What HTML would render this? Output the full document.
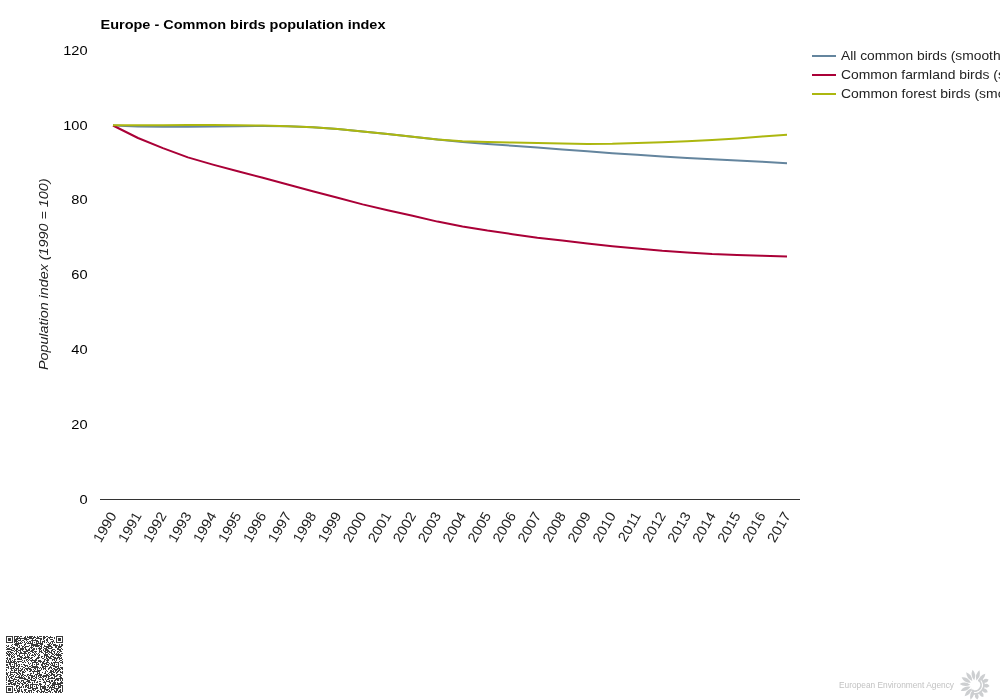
<!DOCTYPE html>
<html><head><meta charset="utf-8"><title>Europe - Common birds population index</title>
<style>
html,body{margin:0;padding:0;background:#fff;width:1000px;height:700px;overflow:hidden}
svg{display:block;will-change:transform}
text{font-family:"Liberation Sans",sans-serif}
</style></head><body>
<svg width="1000" height="700" viewBox="0 0 1000 700">
<rect width="1000" height="700" fill="#fff"/>
<text x="100.5" y="29" font-size="13" font-weight="bold" fill="#000" textLength="285" lengthAdjust="spacingAndGlyphs">Europe - Common birds population index</text>
<text transform="translate(87.6,55) scale(1.09,1)" font-size="13.4" fill="#000" text-anchor="end">120</text>
<text transform="translate(87.6,130) scale(1.09,1)" font-size="13.4" fill="#000" text-anchor="end">100</text>
<text transform="translate(87.6,204) scale(1.09,1)" font-size="13.4" fill="#000" text-anchor="end">80</text>
<text transform="translate(87.6,279) scale(1.09,1)" font-size="13.4" fill="#000" text-anchor="end">60</text>
<text transform="translate(87.6,354) scale(1.09,1)" font-size="13.4" fill="#000" text-anchor="end">40</text>
<text transform="translate(87.6,429) scale(1.09,1)" font-size="13.4" fill="#000" text-anchor="end">20</text>
<text transform="translate(87.6,504) scale(1.09,1)" font-size="13.4" fill="#000" text-anchor="end">0</text>
<text transform="translate(48,274.3) rotate(-90)" x="0" y="0" font-size="13" font-style="italic" fill="#222" text-anchor="middle" textLength="191.6" lengthAdjust="spacingAndGlyphs">Population index (1990 = 100)</text>
<rect x="100" y="499" width="700" height="1" fill="#333"/>
<text transform="translate(117.10,515.50) rotate(-60) scale(1.050,1)" font-size="13.90" fill="#222" text-anchor="end">1990</text>
<text transform="translate(142.06,515.50) rotate(-60) scale(1.050,1)" font-size="13.90" fill="#222" text-anchor="end">1991</text>
<text transform="translate(167.03,515.50) rotate(-60) scale(1.050,1)" font-size="13.90" fill="#222" text-anchor="end">1992</text>
<text transform="translate(191.99,515.50) rotate(-60) scale(1.050,1)" font-size="13.90" fill="#222" text-anchor="end">1993</text>
<text transform="translate(216.95,515.50) rotate(-60) scale(1.050,1)" font-size="13.90" fill="#222" text-anchor="end">1994</text>
<text transform="translate(241.91,515.50) rotate(-60) scale(1.050,1)" font-size="13.90" fill="#222" text-anchor="end">1995</text>
<text transform="translate(266.88,515.50) rotate(-60) scale(1.050,1)" font-size="13.90" fill="#222" text-anchor="end">1996</text>
<text transform="translate(291.84,515.50) rotate(-60) scale(1.050,1)" font-size="13.90" fill="#222" text-anchor="end">1997</text>
<text transform="translate(316.80,515.50) rotate(-60) scale(1.050,1)" font-size="13.90" fill="#222" text-anchor="end">1998</text>
<text transform="translate(341.77,515.50) rotate(-60) scale(1.050,1)" font-size="13.90" fill="#222" text-anchor="end">1999</text>
<text transform="translate(366.73,515.50) rotate(-60) scale(1.050,1)" font-size="13.90" fill="#222" text-anchor="end">2000</text>
<text transform="translate(391.69,515.50) rotate(-60) scale(1.050,1)" font-size="13.90" fill="#222" text-anchor="end">2001</text>
<text transform="translate(416.66,515.50) rotate(-60) scale(1.050,1)" font-size="13.90" fill="#222" text-anchor="end">2002</text>
<text transform="translate(441.62,515.50) rotate(-60) scale(1.050,1)" font-size="13.90" fill="#222" text-anchor="end">2003</text>
<text transform="translate(466.58,515.50) rotate(-60) scale(1.050,1)" font-size="13.90" fill="#222" text-anchor="end">2004</text>
<text transform="translate(491.54,515.50) rotate(-60) scale(1.050,1)" font-size="13.90" fill="#222" text-anchor="end">2005</text>
<text transform="translate(516.51,515.50) rotate(-60) scale(1.050,1)" font-size="13.90" fill="#222" text-anchor="end">2006</text>
<text transform="translate(541.47,515.50) rotate(-60) scale(1.050,1)" font-size="13.90" fill="#222" text-anchor="end">2007</text>
<text transform="translate(566.43,515.50) rotate(-60) scale(1.050,1)" font-size="13.90" fill="#222" text-anchor="end">2008</text>
<text transform="translate(591.40,515.50) rotate(-60) scale(1.050,1)" font-size="13.90" fill="#222" text-anchor="end">2009</text>
<text transform="translate(616.36,515.50) rotate(-60) scale(1.050,1)" font-size="13.90" fill="#222" text-anchor="end">2010</text>
<text transform="translate(641.32,515.50) rotate(-60) scale(1.050,1)" font-size="13.90" fill="#222" text-anchor="end">2011</text>
<text transform="translate(666.29,515.50) rotate(-60) scale(1.050,1)" font-size="13.90" fill="#222" text-anchor="end">2012</text>
<text transform="translate(691.25,515.50) rotate(-60) scale(1.050,1)" font-size="13.90" fill="#222" text-anchor="end">2013</text>
<text transform="translate(716.21,515.50) rotate(-60) scale(1.050,1)" font-size="13.90" fill="#222" text-anchor="end">2014</text>
<text transform="translate(741.17,515.50) rotate(-60) scale(1.050,1)" font-size="13.90" fill="#222" text-anchor="end">2015</text>
<text transform="translate(766.14,515.50) rotate(-60) scale(1.050,1)" font-size="13.90" fill="#222" text-anchor="end">2016</text>
<text transform="translate(791.10,515.50) rotate(-60) scale(1.050,1)" font-size="13.90" fill="#222" text-anchor="end">2017</text>
<polyline points="113.0,125.5 138.0,126.4 162.9,126.8 187.9,126.8 212.9,126.6 237.8,126.3 262.8,126.0 287.7,126.2 312.7,127.2 337.7,129.1 362.6,131.5 387.6,134.1 412.6,136.8 437.5,139.6 462.5,142.0 487.4,144.1 512.4,145.7 537.4,147.6 562.3,149.5 587.3,151.3 612.3,153.2 637.2,154.8 662.2,156.4 687.1,158.0 712.1,159.3 737.1,160.5 762.0,161.7 787.0,163.3" fill="none" stroke="#64859e" stroke-width="2" stroke-linejoin="round"/>
<polyline points="113.0,125.5 138.0,138.0 162.9,148.1 187.9,157.4 212.9,164.6 237.8,171.3 262.8,177.8 287.7,184.5 312.7,191.2 337.7,197.8 362.6,204.4 387.6,210.3 412.6,215.8 437.5,221.6 462.5,226.4 487.4,230.6 512.4,234.2 537.4,237.8 562.3,240.6 587.3,243.6 612.3,246.2 637.2,248.6 662.2,250.8 687.1,252.4 712.1,254.0 737.1,255.0 762.0,255.8 787.0,256.4" fill="none" stroke="#aa0037" stroke-width="2" stroke-linejoin="round"/>
<polyline points="113.0,125.2 138.0,125.2 162.9,125.2 187.9,125.1 212.9,125.1 237.8,125.2 262.8,125.5 287.7,126.2 312.7,127.2 337.7,129.1 362.6,131.5 387.6,134.1 412.6,136.8 437.5,139.6 462.5,141.2 487.4,142.0 512.4,142.5 537.4,143.1 562.3,143.6 587.3,143.9 612.3,143.8 637.2,143.1 662.2,142.3 687.1,141.2 712.1,140.0 737.1,138.5 762.0,136.5 787.0,134.8" fill="none" stroke="#acb70f" stroke-width="2" stroke-linejoin="round"/>
<rect x="812" y="55" width="24" height="2" fill="#64859e"/>
<text transform="translate(841,60.0) scale(1.063,1)" font-size="13" fill="#222">All common birds (smoothed)</text>
<rect x="812" y="74" width="24" height="2" fill="#aa0037"/>
<text transform="translate(841,79.0) scale(1.071,1)" font-size="13" fill="#222">Common farmland birds (smoothed)</text>
<rect x="812" y="93" width="24" height="2" fill="#acb70f"/>
<text transform="translate(841,98.0) scale(1.075,1)" font-size="13" fill="#222">Common forest birds (smoothed)</text>
<defs><filter id="qb" x="-5%%" y="-5%%" width="110%%" height="110%%"><feGaussianBlur stdDeviation="0.3"/></filter></defs>
<path fill="#3a3a3a" filter="url(#qb)" d="M6 636h7v1h-7zM14 636h5v1h-5zM20 636h2v1h-2zM25 636h1v1h-1zM27 636h1v1h-1zM29 636h4v1h-4zM34 636h1v1h-1zM37 636h1v1h-1zM39 636h3v1h-3zM43 636h2v1h-2zM46 636h2v1h-2zM50 636h1v1h-1zM56 636h7v1h-7zM6 637h1v1h-1zM12 637h1v1h-1zM14 637h1v1h-1zM17 637h1v1h-1zM19 637h1v1h-1zM24 637h2v1h-2zM27 637h5v1h-5zM33 637h3v1h-3zM37 637h2v1h-2zM43 637h3v1h-3zM48 637h5v1h-5zM54 637h1v1h-1zM56 637h1v1h-1zM62 637h1v1h-1zM6 638h1v1h-1zM8 638h3v1h-3zM12 638h1v1h-1zM14 638h1v1h-1zM16 638h11v1h-11zM29 638h5v1h-5zM36 638h6v1h-6zM43 638h2v1h-2zM47 638h1v1h-1zM49 638h1v1h-1zM54 638h1v1h-1zM56 638h1v1h-1zM58 638h3v1h-3zM62 638h1v1h-1zM6 639h1v1h-1zM8 639h3v1h-3zM12 639h1v1h-1zM14 639h4v1h-4zM20 639h1v1h-1zM24 639h5v1h-5zM32 639h1v1h-1zM35 639h1v1h-1zM40 639h2v1h-2zM43 639h1v1h-1zM46 639h2v1h-2zM50 639h3v1h-3zM56 639h1v1h-1zM58 639h3v1h-3zM62 639h1v1h-1zM6 640h1v1h-1zM8 640h3v1h-3zM12 640h1v1h-1zM14 640h3v1h-3zM18 640h3v1h-3zM22 640h2v1h-2zM26 640h1v1h-1zM31 640h7v1h-7zM40 640h1v1h-1zM44 640h1v1h-1zM46 640h2v1h-2zM53 640h1v1h-1zM56 640h1v1h-1zM58 640h3v1h-3zM62 640h1v1h-1zM6 641h1v1h-1zM12 641h1v1h-1zM14 641h4v1h-4zM21 641h1v1h-1zM24 641h1v1h-1zM27 641h1v1h-1zM29 641h2v1h-2zM32 641h1v1h-1zM36 641h3v1h-3zM40 641h1v1h-1zM42 641h3v1h-3zM47 641h1v1h-1zM51 641h3v1h-3zM56 641h1v1h-1zM62 641h1v1h-1zM6 642h7v1h-7zM14 642h1v1h-1zM16 642h1v1h-1zM18 642h1v1h-1zM20 642h1v1h-1zM22 642h1v1h-1zM24 642h1v1h-1zM26 642h1v1h-1zM28 642h1v1h-1zM30 642h1v1h-1zM32 642h1v1h-1zM34 642h1v1h-1zM36 642h1v1h-1zM38 642h1v1h-1zM40 642h1v1h-1zM42 642h1v1h-1zM44 642h1v1h-1zM46 642h1v1h-1zM48 642h1v1h-1zM50 642h1v1h-1zM52 642h1v1h-1zM54 642h1v1h-1zM56 642h7v1h-7zM15 643h7v1h-7zM25 643h1v1h-1zM27 643h6v1h-6zM36 643h7v1h-7zM49 643h2v1h-2zM52 643h1v1h-1zM12 644h1v1h-1zM14 644h5v1h-5zM24 644h2v1h-2zM31 644h7v1h-7zM40 644h3v1h-3zM47 644h3v1h-3zM51 644h1v1h-1zM53 644h3v1h-3zM59 644h1v1h-1zM61 644h2v1h-2zM6 645h1v1h-1zM8 645h1v1h-1zM11 645h1v1h-1zM15 645h3v1h-3zM19 645h1v1h-1zM21 645h1v1h-1zM24 645h1v1h-1zM29 645h1v1h-1zM31 645h9v1h-9zM41 645h1v1h-1zM44 645h1v1h-1zM48 645h3v1h-3zM53 645h5v1h-5zM59 645h1v1h-1zM61 645h2v1h-2zM7 646h2v1h-2zM12 646h1v1h-1zM17 646h1v1h-1zM19 646h1v1h-1zM22 646h2v1h-2zM25 646h4v1h-4zM31 646h1v1h-1zM33 646h1v1h-1zM35 646h4v1h-4zM40 646h2v1h-2zM44 646h8v1h-8zM55 646h2v1h-2zM58 646h4v1h-4zM6 647h1v1h-1zM10 647h2v1h-2zM13 647h2v1h-2zM18 647h2v1h-2zM22 647h1v1h-1zM24 647h2v1h-2zM30 647h3v1h-3zM39 647h1v1h-1zM41 647h1v1h-1zM43 647h1v1h-1zM46 647h3v1h-3zM51 647h2v1h-2zM55 647h2v1h-2zM58 647h3v1h-3zM7 648h3v1h-3zM12 648h3v1h-3zM16 648h2v1h-2zM20 648h4v1h-4zM25 648h1v1h-1zM29 648h1v1h-1zM31 648h1v1h-1zM33 648h2v1h-2zM36 648h1v1h-1zM38 648h4v1h-4zM44 648h3v1h-3zM48 648h4v1h-4zM57 648h2v1h-2zM61 648h1v1h-1zM6 649h6v1h-6zM14 649h1v1h-1zM16 649h2v1h-2zM20 649h4v1h-4zM25 649h2v1h-2zM28 649h2v1h-2zM32 649h3v1h-3zM36 649h1v1h-1zM39 649h2v1h-2zM43 649h1v1h-1zM45 649h3v1h-3zM52 649h3v1h-3zM57 649h4v1h-4zM62 649h1v1h-1zM11 650h3v1h-3zM15 650h2v1h-2zM18 650h3v1h-3zM22 650h1v1h-1zM26 650h4v1h-4zM31 650h3v1h-3zM39 650h1v1h-1zM41 650h1v1h-1zM43 650h1v1h-1zM45 650h4v1h-4zM51 650h2v1h-2zM55 650h1v1h-1zM59 650h2v1h-2zM7 651h4v1h-4zM14 651h1v1h-1zM16 651h2v1h-2zM20 651h1v1h-1zM23 651h5v1h-5zM30 651h3v1h-3zM34 651h3v1h-3zM39 651h3v1h-3zM44 651h2v1h-2zM47 651h3v1h-3zM51 651h1v1h-1zM53 651h2v1h-2zM57 651h2v1h-2zM60 651h2v1h-2zM6 652h1v1h-1zM8 652h1v1h-1zM10 652h3v1h-3zM16 652h1v1h-1zM18 652h1v1h-1zM20 652h2v1h-2zM24 652h2v1h-2zM28 652h2v1h-2zM32 652h2v1h-2zM35 652h1v1h-1zM39 652h1v1h-1zM41 652h2v1h-2zM45 652h3v1h-3zM49 652h3v1h-3zM54 652h1v1h-1zM57 652h1v1h-1zM59 652h1v1h-1zM6 653h2v1h-2zM9 653h1v1h-1zM11 653h1v1h-1zM13 653h1v1h-1zM15 653h2v1h-2zM19 653h8v1h-8zM28 653h1v1h-1zM30 653h1v1h-1zM34 653h1v1h-1zM36 653h1v1h-1zM38 653h1v1h-1zM43 653h1v1h-1zM45 653h1v1h-1zM48 653h1v1h-1zM51 653h2v1h-2zM54 653h1v1h-1zM56 653h1v1h-1zM58 653h1v1h-1zM61 653h2v1h-2zM7 654h4v1h-4zM12 654h1v1h-1zM14 654h1v1h-1zM16 654h1v1h-1zM19 654h1v1h-1zM24 654h1v1h-1zM27 654h1v1h-1zM29 654h1v1h-1zM32 654h1v1h-1zM34 654h2v1h-2zM37 654h1v1h-1zM39 654h1v1h-1zM44 654h4v1h-4zM49 654h1v1h-1zM52 654h2v1h-2zM55 654h6v1h-6zM6 655h1v1h-1zM8 655h2v1h-2zM11 655h1v1h-1zM13 655h1v1h-1zM17 655h3v1h-3zM22 655h1v1h-1zM24 655h1v1h-1zM27 655h1v1h-1zM29 655h1v1h-1zM31 655h3v1h-3zM35 655h1v1h-1zM38 655h2v1h-2zM44 655h4v1h-4zM51 655h1v1h-1zM54 655h1v1h-1zM56 655h6v1h-6zM9 656h1v1h-1zM11 656h2v1h-2zM14 656h1v1h-1zM17 656h1v1h-1zM19 656h3v1h-3zM25 656h1v1h-1zM27 656h2v1h-2zM34 656h1v1h-1zM38 656h1v1h-1zM41 656h2v1h-2zM44 656h1v1h-1zM46 656h3v1h-3zM50 656h4v1h-4zM58 656h1v1h-1zM60 656h1v1h-1zM7 657h1v1h-1zM11 657h1v1h-1zM13 657h2v1h-2zM20 657h3v1h-3zM24 657h6v1h-6zM31 657h2v1h-2zM37 657h3v1h-3zM41 657h1v1h-1zM44 657h1v1h-1zM46 657h1v1h-1zM48 657h3v1h-3zM53 657h3v1h-3zM57 657h3v1h-3zM61 657h1v1h-1zM6 658h2v1h-2zM9 658h2v1h-2zM12 658h1v1h-1zM17 658h3v1h-3zM21 658h1v1h-1zM23 658h3v1h-3zM28 658h1v1h-1zM30 658h2v1h-2zM36 658h3v1h-3zM42 658h2v1h-2zM46 658h2v1h-2zM49 658h3v1h-3zM54 658h4v1h-4zM59 658h3v1h-3zM7 659h1v1h-1zM9 659h2v1h-2zM14 659h2v1h-2zM17 659h5v1h-5zM26 659h2v1h-2zM29 659h1v1h-1zM32 659h1v1h-1zM35 659h2v1h-2zM44 659h2v1h-2zM47 659h2v1h-2zM52 659h3v1h-3zM56 659h1v1h-1zM59 659h1v1h-1zM62 659h1v1h-1zM6 660h1v1h-1zM8 660h1v1h-1zM10 660h1v1h-1zM12 660h1v1h-1zM14 660h1v1h-1zM22 660h1v1h-1zM24 660h1v1h-1zM26 660h1v1h-1zM28 660h1v1h-1zM30 660h7v1h-7zM38 660h3v1h-3zM44 660h1v1h-1zM46 660h3v1h-3zM52 660h1v1h-1zM54 660h1v1h-1zM56 660h1v1h-1zM60 660h2v1h-2zM6 661h1v1h-1zM8 661h1v1h-1zM10 661h2v1h-2zM13 661h3v1h-3zM17 661h5v1h-5zM24 661h1v1h-1zM27 661h1v1h-1zM31 661h1v1h-1zM34 661h2v1h-2zM38 661h4v1h-4zM43 661h2v1h-2zM47 661h1v1h-1zM55 661h1v1h-1zM59 661h1v1h-1zM62 661h1v1h-1zM6 662h9v1h-9zM16 662h1v1h-1zM18 662h1v1h-1zM22 662h2v1h-2zM25 662h1v1h-1zM28 662h1v1h-1zM32 662h6v1h-6zM40 662h1v1h-1zM42 662h2v1h-2zM46 662h3v1h-3zM51 662h1v1h-1zM53 662h6v1h-6zM60 662h3v1h-3zM9 663h2v1h-2zM14 663h3v1h-3zM28 663h1v1h-1zM30 663h1v1h-1zM32 663h1v1h-1zM36 663h1v1h-1zM38 663h1v1h-1zM42 663h5v1h-5zM49 663h1v1h-1zM51 663h2v1h-2zM54 663h1v1h-1zM58 663h1v1h-1zM62 663h1v1h-1zM6 664h2v1h-2zM9 664h2v1h-2zM12 664h1v1h-1zM14 664h1v1h-1zM16 664h1v1h-1zM18 664h2v1h-2zM21 664h1v1h-1zM23 664h2v1h-2zM29 664h1v1h-1zM32 664h1v1h-1zM34 664h1v1h-1zM36 664h3v1h-3zM41 664h2v1h-2zM44 664h1v1h-1zM46 664h3v1h-3zM50 664h1v1h-1zM52 664h1v1h-1zM54 664h1v1h-1zM56 664h1v1h-1zM58 664h1v1h-1zM6 665h2v1h-2zM10 665h1v1h-1zM14 665h1v1h-1zM16 665h2v1h-2zM19 665h1v1h-1zM24 665h4v1h-4zM31 665h2v1h-2zM36 665h1v1h-1zM41 665h2v1h-2zM45 665h1v1h-1zM48 665h1v1h-1zM51 665h4v1h-4zM58 665h1v1h-1zM60 665h1v1h-1zM8 666h1v1h-1zM10 666h5v1h-5zM16 666h1v1h-1zM18 666h2v1h-2zM21 666h2v1h-2zM25 666h1v1h-1zM27 666h1v1h-1zM29 666h2v1h-2zM32 666h6v1h-6zM42 666h6v1h-6zM50 666h1v1h-1zM53 666h6v1h-6zM6 667h3v1h-3zM11 667h1v1h-1zM13 667h2v1h-2zM18 667h1v1h-1zM23 667h2v1h-2zM28 667h1v1h-1zM31 667h8v1h-8zM40 667h1v1h-1zM42 667h2v1h-2zM45 667h1v1h-1zM49 667h3v1h-3zM55 667h2v1h-2zM58 667h1v1h-1zM60 667h3v1h-3zM8 668h1v1h-1zM10 668h4v1h-4zM15 668h4v1h-4zM20 668h1v1h-1zM22 668h1v1h-1zM25 668h6v1h-6zM34 668h2v1h-2zM37 668h1v1h-1zM39 668h1v1h-1zM41 668h1v1h-1zM43 668h3v1h-3zM48 668h2v1h-2zM51 668h1v1h-1zM53 668h2v1h-2zM57 668h3v1h-3zM61 668h2v1h-2zM6 669h1v1h-1zM11 669h1v1h-1zM14 669h1v1h-1zM16 669h1v1h-1zM18 669h1v1h-1zM21 669h2v1h-2zM24 669h1v1h-1zM26 669h2v1h-2zM29 669h3v1h-3zM33 669h1v1h-1zM35 669h1v1h-1zM37 669h1v1h-1zM41 669h1v1h-1zM43 669h1v1h-1zM45 669h1v1h-1zM48 669h1v1h-1zM52 669h1v1h-1zM54 669h4v1h-4zM59 669h2v1h-2zM62 669h1v1h-1zM6 670h1v1h-1zM11 670h2v1h-2zM14 670h3v1h-3zM18 670h4v1h-4zM24 670h1v1h-1zM27 670h1v1h-1zM30 670h2v1h-2zM34 670h1v1h-1zM37 670h4v1h-4zM46 670h1v1h-1zM50 670h2v1h-2zM53 670h1v1h-1zM55 670h2v1h-2zM58 670h2v1h-2zM10 671h1v1h-1zM14 671h1v1h-1zM18 671h1v1h-1zM20 671h1v1h-1zM22 671h2v1h-2zM25 671h1v1h-1zM29 671h2v1h-2zM32 671h8v1h-8zM45 671h1v1h-1zM47 671h1v1h-1zM50 671h4v1h-4zM55 671h1v1h-1zM57 671h2v1h-2zM60 671h1v1h-1zM62 671h1v1h-1zM6 672h1v1h-1zM8 672h1v1h-1zM10 672h7v1h-7zM18 672h2v1h-2zM22 672h3v1h-3zM33 672h1v1h-1zM37 672h1v1h-1zM39 672h1v1h-1zM42 672h1v1h-1zM45 672h1v1h-1zM49 672h3v1h-3zM53 672h2v1h-2zM56 672h2v1h-2zM60 672h3v1h-3zM6 673h2v1h-2zM10 673h1v1h-1zM16 673h2v1h-2zM19 673h2v1h-2zM22 673h1v1h-1zM30 673h2v1h-2zM33 673h1v1h-1zM37 673h3v1h-3zM44 673h2v1h-2zM48 673h1v1h-1zM51 673h2v1h-2zM56 673h1v1h-1zM62 673h1v1h-1zM6 674h2v1h-2zM10 674h3v1h-3zM14 674h1v1h-1zM17 674h2v1h-2zM20 674h1v1h-1zM22 674h2v1h-2zM27 674h2v1h-2zM30 674h1v1h-1zM35 674h3v1h-3zM39 674h3v1h-3zM46 674h2v1h-2zM49 674h1v1h-1zM51 674h4v1h-4zM57 674h4v1h-4zM7 675h1v1h-1zM9 675h2v1h-2zM13 675h1v1h-1zM16 675h1v1h-1zM19 675h1v1h-1zM21 675h2v1h-2zM24 675h2v1h-2zM27 675h1v1h-1zM29 675h4v1h-4zM34 675h1v1h-1zM36 675h1v1h-1zM38 675h4v1h-4zM43 675h6v1h-6zM50 675h2v1h-2zM53 675h2v1h-2zM56 675h2v1h-2zM60 675h2v1h-2zM6 676h1v1h-1zM8 676h1v1h-1zM11 676h3v1h-3zM15 676h1v1h-1zM18 676h2v1h-2zM21 676h1v1h-1zM23 676h1v1h-1zM26 676h1v1h-1zM28 676h1v1h-1zM31 676h4v1h-4zM36 676h1v1h-1zM38 676h1v1h-1zM40 676h1v1h-1zM42 676h5v1h-5zM48 676h2v1h-2zM54 676h3v1h-3zM59 676h2v1h-2zM6 677h1v1h-1zM8 677h1v1h-1zM10 677h2v1h-2zM15 677h8v1h-8zM24 677h1v1h-1zM28 677h2v1h-2zM31 677h2v1h-2zM35 677h2v1h-2zM39 677h3v1h-3zM43 677h1v1h-1zM46 677h1v1h-1zM48 677h1v1h-1zM51 677h2v1h-2zM54 677h1v1h-1zM60 677h2v1h-2zM6 678h1v1h-1zM9 678h1v1h-1zM11 678h2v1h-2zM14 678h1v1h-1zM19 678h7v1h-7zM28 678h2v1h-2zM31 678h1v1h-1zM33 678h2v1h-2zM36 678h1v1h-1zM38 678h1v1h-1zM42 678h1v1h-1zM45 678h1v1h-1zM48 678h7v1h-7zM56 678h7v1h-7zM6 679h1v1h-1zM9 679h1v1h-1zM13 679h4v1h-4zM18 679h1v1h-1zM24 679h4v1h-4zM30 679h2v1h-2zM35 679h1v1h-1zM39 679h2v1h-2zM42 679h2v1h-2zM45 679h1v1h-1zM47 679h2v1h-2zM55 679h4v1h-4zM60 679h1v1h-1zM62 679h1v1h-1zM6 680h1v1h-1zM8 680h6v1h-6zM17 680h2v1h-2zM21 680h3v1h-3zM27 680h3v1h-3zM31 680h5v1h-5zM43 680h1v1h-1zM46 680h1v1h-1zM49 680h1v1h-1zM51 680h2v1h-2zM54 680h2v1h-2zM57 680h2v1h-2zM60 680h1v1h-1zM62 680h1v1h-1zM8 681h3v1h-3zM13 681h1v1h-1zM15 681h2v1h-2zM18 681h2v1h-2zM21 681h1v1h-1zM23 681h1v1h-1zM26 681h4v1h-4zM34 681h1v1h-1zM37 681h1v1h-1zM39 681h2v1h-2zM44 681h1v1h-1zM46 681h4v1h-4zM51 681h2v1h-2zM54 681h1v1h-1zM61 681h1v1h-1zM6 682h1v1h-1zM10 682h3v1h-3zM15 682h1v1h-1zM17 682h1v1h-1zM20 682h1v1h-1zM23 682h3v1h-3zM28 682h3v1h-3zM32 682h1v1h-1zM34 682h1v1h-1zM36 682h2v1h-2zM43 682h3v1h-3zM49 682h2v1h-2zM53 682h3v1h-3zM57 682h1v1h-1zM60 682h3v1h-3zM8 683h4v1h-4zM13 683h3v1h-3zM17 683h3v1h-3zM21 683h2v1h-2zM24 683h2v1h-2zM27 683h1v1h-1zM32 683h1v1h-1zM39 683h2v1h-2zM45 683h1v1h-1zM50 683h1v1h-1zM52 683h4v1h-4zM57 683h6v1h-6zM6 684h1v1h-1zM8 684h2v1h-2zM11 684h5v1h-5zM19 684h1v1h-1zM22 684h2v1h-2zM26 684h1v1h-1zM28 684h1v1h-1zM30 684h8v1h-8zM39 684h3v1h-3zM45 684h1v1h-1zM49 684h1v1h-1zM52 684h9v1h-9zM14 685h1v1h-1zM16 685h3v1h-3zM22 685h1v1h-1zM25 685h4v1h-4zM30 685h1v1h-1zM32 685h1v1h-1zM36 685h1v1h-1zM38 685h1v1h-1zM40 685h1v1h-1zM44 685h1v1h-1zM47 685h2v1h-2zM51 685h4v1h-4zM58 685h1v1h-1zM60 685h3v1h-3zM6 686h7v1h-7zM16 686h2v1h-2zM19 686h1v1h-1zM21 686h1v1h-1zM23 686h1v1h-1zM25 686h2v1h-2zM28 686h1v1h-1zM30 686h1v1h-1zM32 686h1v1h-1zM34 686h1v1h-1zM36 686h1v1h-1zM40 686h6v1h-6zM48 686h1v1h-1zM50 686h1v1h-1zM52 686h1v1h-1zM54 686h1v1h-1zM56 686h1v1h-1zM58 686h3v1h-3zM62 686h1v1h-1zM6 687h1v1h-1zM12 687h1v1h-1zM16 687h1v1h-1zM19 687h3v1h-3zM23 687h1v1h-1zM25 687h1v1h-1zM27 687h2v1h-2zM30 687h3v1h-3zM36 687h2v1h-2zM40 687h1v1h-1zM42 687h4v1h-4zM47 687h1v1h-1zM49 687h6v1h-6zM58 687h3v1h-3zM62 687h1v1h-1zM6 688h1v1h-1zM8 688h3v1h-3zM12 688h1v1h-1zM14 688h1v1h-1zM16 688h1v1h-1zM18 688h2v1h-2zM28 688h3v1h-3zM32 688h6v1h-6zM40 688h1v1h-1zM42 688h4v1h-4zM49 688h1v1h-1zM51 688h1v1h-1zM54 688h5v1h-5zM62 688h1v1h-1zM6 689h1v1h-1zM8 689h3v1h-3zM12 689h1v1h-1zM14 689h1v1h-1zM17 689h1v1h-1zM19 689h1v1h-1zM21 689h1v1h-1zM24 689h3v1h-3zM32 689h2v1h-2zM35 689h1v1h-1zM40 689h2v1h-2zM44 689h5v1h-5zM51 689h3v1h-3zM56 689h2v1h-2zM60 689h1v1h-1zM62 689h1v1h-1zM6 690h1v1h-1zM8 690h3v1h-3zM12 690h1v1h-1zM14 690h2v1h-2zM17 690h3v1h-3zM21 690h1v1h-1zM24 690h2v1h-2zM28 690h4v1h-4zM33 690h2v1h-2zM37 690h2v1h-2zM41 690h1v1h-1zM44 690h1v1h-1zM46 690h2v1h-2zM49 690h1v1h-1zM51 690h1v1h-1zM54 690h1v1h-1zM56 690h2v1h-2zM59 690h2v1h-2zM62 690h1v1h-1zM6 691h1v1h-1zM12 691h1v1h-1zM17 691h3v1h-3zM21 691h2v1h-2zM25 691h1v1h-1zM28 691h2v1h-2zM31 691h1v1h-1zM36 691h2v1h-2zM39 691h1v1h-1zM41 691h4v1h-4zM48 691h3v1h-3zM54 691h3v1h-3zM58 691h3v1h-3zM62 691h1v1h-1zM6 692h7v1h-7zM15 692h2v1h-2zM18 692h1v1h-1zM22 692h1v1h-1zM24 692h1v1h-1zM26 692h2v1h-2zM29 692h1v1h-1zM31 692h1v1h-1zM33 692h1v1h-1zM37 692h1v1h-1zM40 692h2v1h-2zM43 692h1v1h-1zM45 692h3v1h-3zM50 692h1v1h-1zM52 692h1v1h-1zM55 692h2v1h-2zM58 692h1v1h-1zM60 692h2v1h-2z"/>
<text x="839" y="687.7" font-size="8.3" fill="#c2c2c2" textLength="115" lengthAdjust="spacingAndGlyphs">European Environment Agency</text>
<g fill="#cdcfd1" transform="translate(975,685)"><path d="M4.8 0Q10.1 3.50 15.4 0Q10.1 -3.50 4.8 0Z" transform="rotate(-99.0)"/><path d="M4.8 0Q10.1 3.50 15.4 0Q10.1 -3.50 4.8 0Z" transform="rotate(-73.3)"/><path d="M4.8 0Q10.1 3.50 15.4 0Q10.1 -3.50 4.8 0Z" transform="rotate(-47.6)"/><path d="M8.0 0Q11.3 3.80 14.6 0Q11.3 -3.80 8.0 0Z" transform="rotate(-21.9)"/><path d="M8.0 0Q11.3 3.80 14.6 0Q11.3 -3.80 8.0 0Z" transform="rotate(3.9)"/><path d="M8.0 0Q11.3 3.80 14.6 0Q11.3 -3.80 8.0 0Z" transform="rotate(29.6)"/><path d="M8.0 0Q11.3 3.80 14.6 0Q11.3 -3.80 8.0 0Z" transform="rotate(55.3)"/><path d="M8.0 0Q11.3 3.80 14.6 0Q11.3 -3.80 8.0 0Z" transform="rotate(81.0)"/><path d="M4.8 0Q10.1 3.50 15.4 0Q10.1 -3.50 4.8 0Z" transform="rotate(106.7)"/><path d="M4.8 0Q10.1 3.50 15.4 0Q10.1 -3.50 4.8 0Z" transform="rotate(132.4)"/><path d="M4.8 0Q10.1 3.50 15.4 0Q10.1 -3.50 4.8 0Z" transform="rotate(158.1)"/><path d="M4.8 0Q10.1 3.50 15.4 0Q10.1 -3.50 4.8 0Z" transform="rotate(183.9)"/><path d="M4.8 0Q10.1 3.50 15.4 0Q10.1 -3.50 4.8 0Z" transform="rotate(209.6)"/><path d="M4.8 0Q10.1 3.50 15.4 0Q10.1 -3.50 4.8 0Z" transform="rotate(235.3)"/><path d="M3.86 -4.60A6.00 6.00 0 0 1 -3.00 5.20" fill="none" stroke="#cdcfd1" stroke-width="1.8" stroke-linecap="round"/><path d="M6.82 -5.72A8.90 8.90 0 0 1 -3.04 8.36" fill="none" stroke="#cdcfd1" stroke-width="1.9"/></g>
</svg>
</body></html>
